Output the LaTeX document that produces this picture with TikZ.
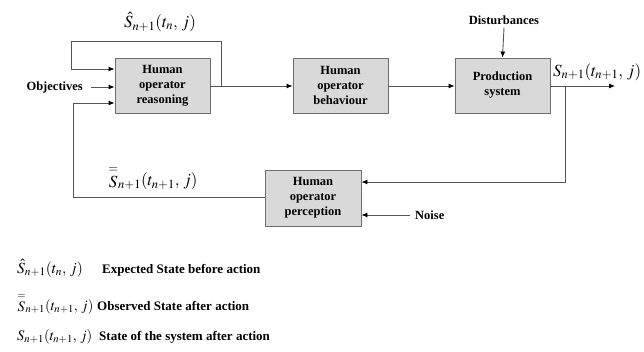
\documentclass[tikz,border=0pt]{standalone}
\usepackage{mathptmx}
\usepackage{fontspec}
\setmainfont{Liberation Serif}
\usetikzlibrary{arrows.meta}
\definecolor{boxgray}{HTML}{D9D9D9}
\definecolor{bordergray}{HTML}{6E6E6E}
\definecolor{linegray}{HTML}{555555}
\newcommand{\dbarS}{\mathord{\stackrel{=}{S}}}
\tikzset{
  blk/.style={draw=bordergray, fill=boxgray, line width=0.9pt, minimum width=95pt, minimum height=55pt, inner sep=0pt, align=center, font=\bfseries\fontsize{12.5}{15}\selectfont},
  lbl/.style={font=\bfseries\fontsize{12.5}{15}\selectfont, inner sep=0pt},
  leg/.style={font=\bfseries\fontsize{13}{15}\selectfont, inner sep=0pt, anchor=base west},
  mth/.style={font=\fontsize{17}{20}\selectfont, inner sep=0pt},
  legm/.style={font=\fontsize{14.5}{17}\selectfont, inner sep=0pt, anchor=base west},
  conn/.style={draw=linegray, line width=0.9pt},
  arr/.style={conn, -{Latex[length=6pt,width=5pt,color=black]}}
}
\begin{document}
\begin{tikzpicture}[x=1pt,y=-1pt]
\useasboundingbox (0,0) rectangle (644,351);
% blocks
\node[blk] (reason) at (162.5,85.5) {Human\\operator\\reasoning};
\node[blk] (behav) at (340.5,85.5) {Human\\operator\\behaviour};
\node[blk] (prod) at (502.5,85.5) {Production\\system};
\node[blk, minimum width=96pt, minimum height=56pt] (percep) at (313,198) {Human\\operator\\perception};
% text labels
\node[lbl, anchor=east] (obj) at (83,87) {Objectives};
\node[lbl] (dist) at (504,20) {Disturbances};
\node[lbl, anchor=west] (noise) at (415,215) {Noise};
\node[mth] (shat) at (160,22) {$\hat{S}_{n+1}(t_{n},\,j)$};
\node[mth] (sbar) at (153,178) {$\dbarS_{n+1}(t_{n+1},\,j)$};
\node[mth, anchor=west] (sout) at (553,72) {$S_{n+1}(t_{n+1},\,j)$};
% coordinates
\coordinate (out) at (615,86);
\coordinate (br) at (565,86);
\coordinate (tl) at (221,86);
% connectors
\draw[arr] (reason.east |- 0,86) -- (behav.west |- 0,86);
\draw[arr] (behav.east |- 0,86) -- (prod.west |- 0,86);
\draw[arr] (prod.east |- 0,86) -- (out);
\draw[arr] (br) -- (565,182) -- (percep.east |- 0,182);
\draw[arr] (noise.west) ++(-5,0) -- (percep.east |- 0,215);
\draw[arr] (dist.south) ++(0,3) -- (prod.north);
\draw[arr] (obj.east) ++(8,0) -- (reason.west |- 0,87);
\draw[arr] (tl) -- (221,41) -- (71,41) -- (71,69) -- (reason.west |- 0,69);
\draw[arr] (percep.west |- 0,197) -- (73,197) -- (73,103) -- (reason.west |- 0,103);
% legend
\node[legm, font=\fontsize{15.5}{18}\selectfont] (l1) at (17,273) {$\hat{S}_{n+1}(t_{n},\,j)$};
\node[leg] (t1) at (102,273) {Expected State before action};
\node[legm] (l2) at (17,310) {$\dbarS_{n+1}(t_{n+1},\,j)$};
\node[leg] (t2) at (97,310) {Observed State after action};
\node[legm] (l3) at (17,340) {$S_{n+1}(t_{n+1},\,j)$};
\node[leg] (t3) at (99,340) {State of the system after action};
\end{tikzpicture}
\end{document}
